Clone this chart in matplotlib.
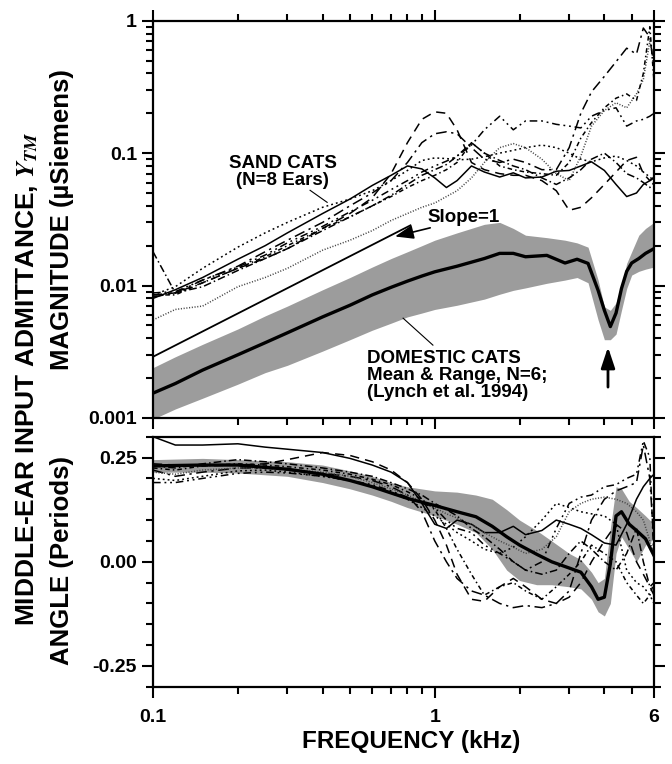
import numpy as np
import matplotlib as mpl
import matplotlib.pyplot as plt
from matplotlib.ticker import FixedLocator, NullFormatter, FixedFormatter, MultipleLocator

mpl.rc('font', family=['Liberation Sans', 'DejaVu Sans'], weight='bold', size=14)
mpl.rcParams['mathtext.fontset'] = 'stix'

# Sand cats, 8 ears (common frequency grid, kHz)
sand_freq = [0.1, 0.12, 0.15, 0.2, 0.25, 0.3, 0.4, 0.5, 0.6, 0.7, 0.8, 0.9, 1.0, 1.1, 1.2, 1.35,
             1.5, 1.7, 1.9, 2.1, 2.4, 2.7, 3.0, 3.3, 3.6, 4.0, 4.4, 4.8, 5.2, 5.5, 5.8, 6.0]

# magnitude, uSiemens
mag_a = [0.0080, 0.0093, 0.0115, 0.0158, 0.020, 0.025, 0.035, 0.045, 0.057, 0.068, 0.080, 0.076, 0.065, 0.055, 0.062, 0.080,
         0.072, 0.066, 0.071, 0.065, 0.066, 0.073, 0.074, 0.080, 0.086, 0.074, 0.058, 0.047, 0.050, 0.058, 0.062, 0.066]
mag_b = [0.0085, 0.0088, 0.0105, 0.0135, 0.016, 0.019, 0.027, 0.035, 0.046, 0.070, 0.12, 0.18, 0.205, 0.20, 0.15, 0.085,
         0.075, 0.070, 0.068, 0.068, 0.062, 0.052, 0.037, 0.039, 0.046, 0.058, 0.072, 0.088, 0.093, 0.070, 0.062, 0.065]
mag_c = [0.0082, 0.0088, 0.011, 0.014, 0.018, 0.022, 0.030, 0.040, 0.050, 0.062, 0.085, 0.12, 0.14, 0.145, 0.14, 0.11,
         0.09, 0.085, 0.09, 0.085, 0.075, 0.075, 0.11, 0.20, 0.29, 0.38, 0.49, 0.62, 0.56, 0.88, 0.75, 0.45]
mag_d = [0.0088, 0.009, 0.011, 0.0138, 0.017, 0.021, 0.028, 0.036, 0.044, 0.053, 0.062, 0.072, 0.080, 0.087, 0.095, 0.115,
         0.15, 0.19, 0.15, 0.175, 0.175, 0.165, 0.16, 0.155, 0.19, 0.21, 0.22, 0.16, 0.175, 0.18, 0.19, 0.20]
mag_e = [0.0085, 0.0098, 0.0135, 0.0195, 0.025, 0.030, 0.039, 0.045, 0.052, 0.062, 0.074, 0.088, 0.092, 0.091, 0.089, 0.090,
         0.094, 0.10, 0.105, 0.11, 0.115, 0.11, 0.10, 0.09, 0.086, 0.092, 0.095, 0.088, 0.080, 0.072, 0.066, 0.062]
mag_f = [0.0055, 0.0066, 0.007, 0.0098, 0.0115, 0.0135, 0.0185, 0.022, 0.026, 0.031, 0.035, 0.039, 0.042, 0.047, 0.052, 0.065,
         0.085, 0.11, 0.118, 0.11, 0.09, 0.07, 0.062, 0.095, 0.16, 0.21, 0.24, 0.22, 0.28, 0.36, 0.70, 0.50]
mag_g = [0.0085, 0.0085, 0.0105, 0.0135, 0.0165, 0.020, 0.027, 0.033, 0.040, 0.047, 0.055, 0.062, 0.068, 0.075, 0.085, 0.12,
         0.10, 0.080, 0.075, 0.072, 0.070, 0.068, 0.085, 0.13, 0.17, 0.22, 0.26, 0.28, 0.25, 0.40, 0.90, 0.35]
mag_h = [0.018, 0.0088, 0.0098, 0.013, 0.016, 0.019, 0.026, 0.033, 0.040, 0.048, 0.058, 0.068, 0.075, 0.082, 0.095, 0.12,
         0.10, 0.088, 0.080, 0.075, 0.065, 0.058, 0.065, 0.075, 0.090, 0.10, 0.085, 0.070, 0.065, 0.060, 0.055, 0.060]

# angle, periods
ang_a = [0.30, 0.28, 0.28, 0.283, 0.275, 0.27, 0.262, 0.248, 0.232, 0.215, 0.19, 0.14, 0.09, 0.08, 0.10, 0.09,
         0.07, 0.07, 0.085, 0.065, 0.075, 0.10, 0.09, 0.08, 0.065, 0.045, 0.04, 0.09, 0.15, 0.18, 0.20, 0.21]
ang_b = [0.235, 0.232, 0.23, 0.232, 0.235, 0.245, 0.262, 0.255, 0.24, 0.22, 0.19, 0.15, 0.10, 0.04, -0.03, -0.09,
         -0.095, -0.06, -0.04, -0.06, -0.09, -0.10, -0.085, -0.05, 0.0, 0.05, 0.09, 0.07, 0.0, -0.03, -0.06, -0.05]
ang_c = [0.22, 0.205, 0.215, 0.225, 0.225, 0.22, 0.212, 0.205, 0.195, 0.18, 0.16, 0.12, 0.05, 0.0, -0.04, -0.07,
         -0.08, -0.10, -0.11, -0.105, -0.11, -0.10, -0.07, 0.02, 0.10, 0.15, 0.17, 0.18, 0.19, 0.28, 0.20, 0.04]
ang_d = [0.19, 0.19, 0.20, 0.212, 0.215, 0.213, 0.205, 0.195, 0.185, 0.17, 0.155, 0.14, 0.13, 0.10, 0.08, 0.07,
         0.04, 0.02, 0.0, -0.02, 0.0, 0.08, 0.14, 0.155, 0.16, 0.18, 0.185, 0.20, 0.21, 0.29, 0.25, 0.0]
ang_e = [0.20, 0.195, 0.205, 0.218, 0.22, 0.215, 0.205, 0.195, 0.18, 0.165, 0.15, 0.13, 0.11, 0.09, 0.07, 0.05,
         0.03, 0.02, 0.035, 0.06, 0.10, 0.14, 0.13, 0.12, 0.115, 0.11, 0.09, -0.02, -0.05, -0.06, -0.08, -0.10]
ang_f = [0.215, 0.21, 0.22, 0.225, 0.225, 0.222, 0.215, 0.205, 0.19, 0.175, 0.16, 0.145, 0.13, 0.115, 0.105, 0.09,
         0.07, 0.05, 0.035, 0.02, 0.03, 0.06, 0.12, 0.14, 0.15, 0.155, 0.15, 0.14, 0.12, 0.10, 0.05, 0.02]
ang_g = [0.225, 0.22, 0.23, 0.235, 0.232, 0.228, 0.22, 0.21, 0.198, 0.185, 0.168, 0.15, 0.125, 0.08, 0.03, -0.03,
         -0.08, -0.06, -0.05, -0.07, -0.09, -0.06, -0.03, 0.0, 0.04, 0.02, 0.0, -0.05, -0.08, -0.10, -0.08, -0.05]
ang_h = [0.23, 0.225, 0.235, 0.245, 0.24, 0.235, 0.225, 0.215, 0.205, 0.19, 0.175, 0.16, 0.14, 0.125, 0.11, 0.08,
         0.06, 0.03, 0.0, -0.02, -0.03, -0.02, 0.02, 0.05, 0.03, 0.0, -0.02, 0.02, 0.08, 0.0, -0.06, -0.08]

# Domestic cats (Lynch et al. 1994): mean & range
dom_freq = [0.1, 0.12, 0.15, 0.2, 0.25, 0.3, 0.4, 0.5, 0.6, 0.7, 0.8, 0.9, 1.0, 1.2, 1.5, 1.7,
            1.9, 2.1, 2.5, 2.9, 3.2, 3.5, 3.8, 4.0, 4.2, 4.4, 4.6, 4.8, 5.0, 5.3, 5.6, 6.0]
dom_mag = [0.00154, 0.00182, 0.0023, 0.0030, 0.0037, 0.0044, 0.0058, 0.0071, 0.0085, 0.0097, 0.0108, 0.0118, 0.0127, 0.014, 0.016, 0.0175,
           0.0175, 0.0165, 0.0169, 0.0148, 0.0158, 0.0147, 0.0092, 0.0065, 0.0049, 0.0062, 0.0095, 0.0128, 0.0148, 0.016, 0.0175, 0.019]
dom_mag_hi = [0.0024, 0.0029, 0.0036, 0.0047, 0.0059, 0.0070, 0.0093, 0.0115, 0.0138, 0.016, 0.018, 0.020, 0.022, 0.025, 0.029, 0.030,
              0.027, 0.024, 0.023, 0.022, 0.021, 0.0195, 0.011, 0.0069, 0.0065, 0.0074, 0.010, 0.0147, 0.018, 0.024, 0.027, 0.030]
dom_mag_lo = [0.00098, 0.00117, 0.00141, 0.0018, 0.0022, 0.0025, 0.0032, 0.0039, 0.0046, 0.0052, 0.0058, 0.0062, 0.0066, 0.0071, 0.0079, 0.0086,
              0.0092, 0.0096, 0.0104, 0.011, 0.0115, 0.0105, 0.0055, 0.0039, 0.0039, 0.0043, 0.0065, 0.0095, 0.012, 0.0128, 0.0133, 0.0138]

dom_ang_freq = [0.1, 0.15, 0.2, 0.3, 0.4, 0.5, 0.6, 0.7, 0.8, 1.0, 1.2, 1.4, 1.6, 1.8, 2.0,
                2.3, 2.6, 3.0, 3.3, 3.6, 3.8, 4.0, 4.2, 4.4, 4.6, 4.9, 5.2, 5.6, 6.0]
dom_ang = [0.23, 0.232, 0.232, 0.222, 0.21, 0.195, 0.18, 0.165, 0.152, 0.135, 0.12, 0.108, 0.085, 0.06, 0.04,
           0.018, 0.0, -0.015, -0.025, -0.06, -0.09, -0.085, -0.005, 0.11, 0.12, 0.09, 0.075, 0.055, 0.015]
dom_ang_hi = [0.245, 0.248, 0.245, 0.24, 0.232, 0.218, 0.205, 0.19, 0.18, 0.17, 0.167, 0.16, 0.15, 0.125, 0.10,
              0.075, 0.05, 0.02, 0.005, -0.025, -0.05, -0.04, 0.08, 0.18, 0.175, 0.145, 0.13, 0.11, 0.09]
dom_ang_lo = [0.215, 0.215, 0.213, 0.205, 0.19, 0.175, 0.16, 0.145, 0.13, 0.11, 0.09, 0.07, 0.03, -0.02, -0.045,
              -0.055, -0.055, -0.06, -0.065, -0.09, -0.12, -0.13, -0.10, 0.02, 0.06, 0.03, 0.0, 0.04, 0.055]

# Slope = 1 reference line
slope_freq = [0.1, 0.82]
slope_mag = [0.0029, 0.0285]

sand_mag = [mag_a, mag_b, mag_c, mag_d, mag_e, mag_f, mag_g, mag_h]
sand_ang = [ang_a, ang_b, ang_c, ang_d, ang_e, ang_f, ang_g, ang_h]
styles = ['-', (0, (6, 4)), (0, (7, 3, 1.5, 3)), (0, (5, 2.5, 1.2, 2.5, 1.2, 2.5)),
          (0, (1.2, 2)), (0, (0.7, 1.1)), (0, (3, 2, 1, 2)), (0, (5, 2, 1, 2))]
colors = ['k', 'k', 'k', 'k', 'k', '#444444', 'k', 'k']

band = '#9c9c9c'

fig = plt.figure(figsize=(6.72, 7.64), dpi=100)
ax1 = fig.add_axes([0.2277, 0.4529, 0.7455, 0.5200])
ax2 = fig.add_axes([0.2277, 0.1010, 0.7455, 0.3274])

# --- magnitude
ax1.fill_between(dom_freq, dom_mag_lo, dom_mag_hi, color=band, lw=0)
for y, ls, c in zip(sand_mag, styles, colors):
    ax1.plot(sand_freq, y, ls=ls, color=c, lw=1.1)
ax1.plot(dom_freq, dom_mag, color='k', lw=2.4)
ax1.plot(slope_freq, slope_mag, color='k', lw=1.3)

ax1.set_xscale('log')
ax1.set_yscale('log')
ax1.set_xlim(0.1, 6)
ax1.set_ylim(0.001, 1)

ax1.text(0.289, 0.0717, 'SAND CATS\n(N=8 Ears)', ha='center', va='center', fontsize=13.5, linespacing=1.0)
ax1.plot([0.361, 0.415], [0.0524, 0.0425], color='k', lw=0.8)
ax1.text(0.939, 0.0328, 'Slope=1', ha='left', va='center', fontsize=13.5)
ax1.annotate('', xy=(0.707, 0.0232), xytext=(0.985, 0.0276),
             arrowprops=dict(arrowstyle='-|>,head_length=0.8,head_width=0.3', color='k', lw=1.2))
ax1.text(0.575, 0.00211, 'DOMESTIC CATS\nMean & Range, N=6;\n(Lynch et al. 1994)',
         ha='left', va='center', fontsize=13.5, linespacing=1.0)
ax1.plot([0.772, 0.985], [0.00567, 0.00355], color='k', lw=0.8)
ax1.annotate('', xy=(4.12, 0.0036), xytext=(4.12, 0.00163),
             arrowprops=dict(arrowstyle='-|>,head_length=0.9,head_width=0.3', color='k', lw=2))

ax1.yaxis.set_major_locator(FixedLocator([0.001, 0.01, 0.1, 1]))
ax1.yaxis.set_major_formatter(FixedFormatter(['0.001', '0.01', '0.1', '1']))
ax1.yaxis.set_minor_formatter(NullFormatter())
ax1.xaxis.set_major_locator(FixedLocator([0.1, 1, 6]))
ax1.xaxis.set_minor_locator(FixedLocator([0.2, 0.3, 0.4, 0.5, 0.6, 0.7, 0.8, 0.9, 2, 3, 4, 5]))
ax1.xaxis.set_major_formatter(NullFormatter())
ax1.xaxis.set_minor_formatter(NullFormatter())
ax1.tick_params(which='both', direction='out', width=1.5, top=True, right=True, labelsize=14)
ax1.tick_params(which='major', length=8)
ax1.tick_params(which='minor', length=5)

# --- angle
ax2.fill_between(dom_ang_freq, dom_ang_lo, dom_ang_hi, color=band, lw=0)
for y, ls, c in zip(sand_ang, styles, colors):
    ax2.plot(sand_freq, y, ls=ls, color=c, lw=1.1)
ax2.plot(dom_ang_freq, dom_ang, color='k', lw=2.4)

ax2.set_xscale('log')
ax2.set_xlim(0.1, 6)
ax2.set_ylim(-0.3, 0.3)
ax2.yaxis.set_major_locator(FixedLocator([-0.25, 0, 0.25]))
ax2.yaxis.set_major_formatter(FixedFormatter(['-0.25', '0.00', '0.25']))
ax2.yaxis.set_minor_locator(MultipleLocator(0.05))
ax2.xaxis.set_major_locator(FixedLocator([0.1, 1, 6]))
ax2.xaxis.set_major_formatter(FixedFormatter(['0.1', '1', '6']))
ax2.xaxis.set_minor_locator(FixedLocator([0.2, 0.3, 0.4, 0.5, 0.6, 0.7, 0.8, 0.9, 2, 3, 4, 5]))
ax2.xaxis.set_minor_formatter(NullFormatter())
ax2.tick_params(which='both', direction='out', width=1.5, right=True, labelsize=14)
ax2.tick_params(which='major', length=8)
ax2.tick_params(which='minor', length=5)
ax2.tick_params(axis='x', which='major', pad=8)

for ax in (ax1, ax2):
    for s in ax.spines.values():
        s.set_linewidth(1.6)

fig.text(0.612, 0.029, 'FREQUENCY (kHz)', ha='center', va='center', fontsize=17.5)
fig.text(0.092, 0.712, 'MAGNITUDE (\u00b5Siemens)', rotation=90, ha='center', va='center', fontsize=18.5)
fig.text(0.092, 0.267, 'ANGLE (Periods)', rotation=90, ha='center', va='center', fontsize=18.5)
fig.text(0.040, 0.505, r'MIDDLE-EAR INPUT ADMITTANCE, $Y_{TM}$', rotation=90,
         ha='center', va='center', fontsize=19)

fig.savefig('out.png', dpi=100)
